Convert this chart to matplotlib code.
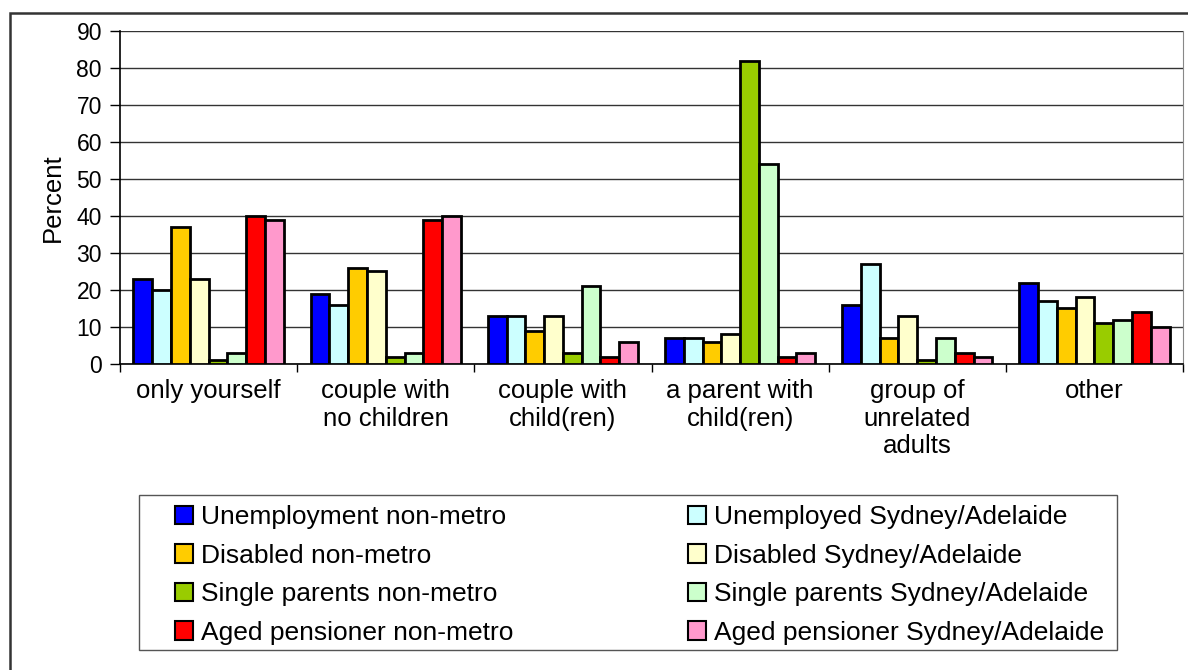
import numpy as np
import matplotlib.pyplot as plt
from matplotlib.patches import Rectangle

plt.rcParams['font.family'] = ['Liberation Sans', 'DejaVu Sans']

# ---------------- Data ----------------
categories = ["only yourself", "couple with\nno children", "couple with\nchild(ren)",
              "a parent with\nchild(ren)", "group of\nunrelated\nadults", "other"]

series = [
    "Unemployment non-metro", "Unemployed Sydney/Adelaide",
    "Disabled non-metro", "Disabled Sydney/Adelaide",
    "Single parents non-metro", "Single parents Sydney/Adelaide",
    "Aged pensioner non-metro", "Aged pensioner Sydney/Adelaide",
]

unemp_nonmetro = [23, 19, 13, 7, 16, 22]
unemp_city = [20, 16, 13, 7, 27, 17]
disabled_nonmetro = [37, 26, 9, 6, 7, 15]
disabled_city = [23, 25, 13, 8, 13, 18]
single_nonmetro = [1, 2, 3, 82, 1, 11]
single_city = [3, 3, 21, 54, 7, 12]
aged_nonmetro = [40, 39, 2, 2, 3, 14]
aged_city = [39, 40, 6, 3, 2, 10]

values = [unemp_nonmetro, unemp_city, disabled_nonmetro, disabled_city,
          single_nonmetro, single_city, aged_nonmetro, aged_city]

colors = ["#0000FF", "#CCFFFF", "#FFCC00", "#FFFFCC",
          "#99CC00", "#CCFFCC", "#FF0000", "#FF99CC"]

# ---------------- Drawing ----------------
fig = plt.figure(figsize=(11.88, 6.70), dpi=100)
W, H = 1188, 670

# outer chart frame (only left/top visible in the crop)
fig.add_artist(Rectangle((10 / W, -0.1), 1.2, 1 - 13 / H + 0.1, transform=fig.transFigure,
                         fill=False, edgecolor="#333333", linewidth=1.8))

ax = fig.add_axes([120 / W, 1 - 364 / H, (1183 - 120) / W, (364 - 31) / H])

x = np.arange(len(categories))
bw = 0.106
for i, (vals, c) in enumerate(zip(values, colors)):
    ax.bar(x + (i - 3.5) * bw, vals, bw, color=c, edgecolor="black",
           linewidth=2.0, label=series[i], zorder=3)

ax.set_xlim(-0.5, len(categories) - 0.5)
ax.set_ylim(0, 90)
ax.set_yticks(range(0, 91, 10))
ax.yaxis.grid(True, color="#333333", linewidth=1.0, zorder=0)
ax.tick_params(axis="y", labelsize=16.5, length=7, width=1, direction="out", pad=6)

ax.set_xticks(np.arange(len(categories) + 1) - 0.5, minor=False)
ax.set_xticklabels([])
ax.tick_params(axis="x", length=6, width=1, direction="out")
for xi, lab in zip(x, categories):
    ax.text(xi, -4.0, lab, ha="center", va="top", fontsize=18.5, linespacing=1.2)

ax.spines["top"].set_visible(False)
ax.spines["right"].set_color("#888888")
ax.spines["left"].set_linewidth(1.2)
ax.spines["bottom"].set_linewidth(1.2)

ax.set_ylabel("Percent", fontsize=18.5, labelpad=8)

# legend: frame drawn separately, entries laid out in two columns (row-major)
fig.add_artist(Rectangle((139 / W, 1 - 650 / H), (1117 - 139) / W, (650 - 495) / H,
                         transform=fig.transFigure, fill=False,
                         edgecolor="#555555", linewidth=1.0))
order = [0, 2, 4, 6, 1, 3, 5, 7]
handles, labels = ax.get_legend_handles_labels()
leg = fig.legend([handles[k] for k in order], [labels[k] for k in order],
                 ncol=2, loc="upper left", bbox_to_anchor=(175 / W, 1 - 505 / H),
                 fontsize=19, frameon=False, handlelength=0.7, handleheight=0.7,
                 handletextpad=0.3, labelspacing=0.55, borderpad=0,
                 borderaxespad=0, columnspacing=6.6)
for h in leg.legend_handles:
    h.set_linewidth(1.5)

fig.savefig("out.png", dpi=100)
